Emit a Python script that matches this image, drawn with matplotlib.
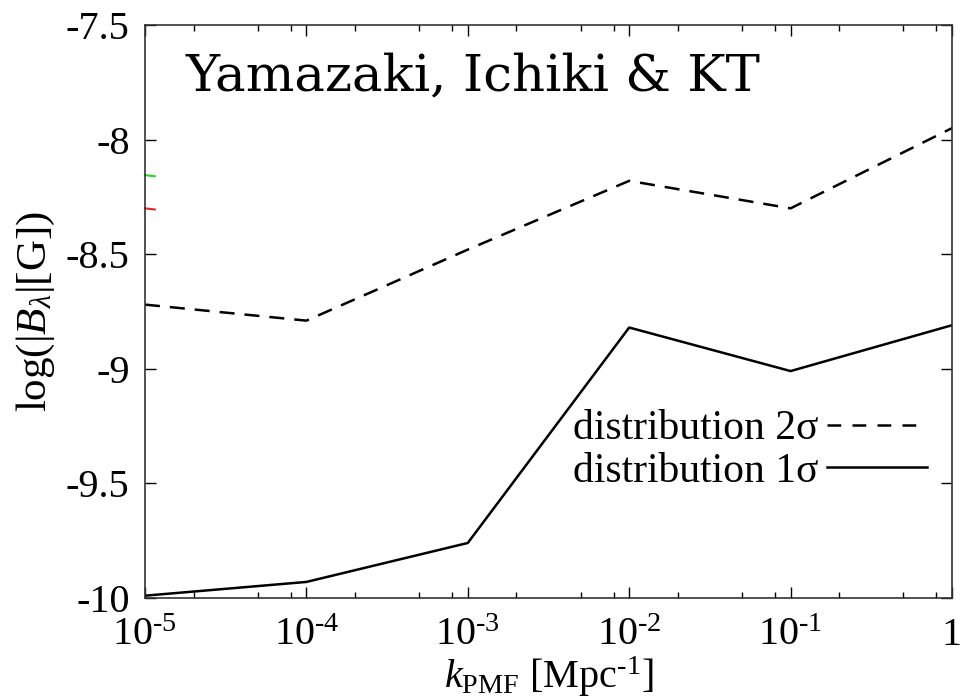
import numpy as np
import matplotlib
matplotlib.use("Agg")
from matplotlib import pyplot as plt
from matplotlib.lines import Line2D
from matplotlib.ticker import FixedLocator

plt.rcParams['font.family'] = ['Liberation Serif', 'DejaVu Serif']
plt.rcParams['mathtext.fontset'] = 'custom'
plt.rcParams['mathtext.rm'] = 'Liberation Serif'
plt.rcParams['mathtext.it'] = 'Liberation Serif:italic'

# Data ------------------------------------------
k_pmf = [1e-5, 1e-4, 1e-3, 1e-2, 1e-1, 1.0]
logB_2sigma = [-8.72, -8.79, -8.48, -8.18, -8.30, -7.95]
logB_1sigma = [-9.99, -9.93, -9.76, -8.82, -9.01, -8.81]

xtick_vals = [1e-5, 1e-4, 1e-3, 1e-2, 1e-1, 1.0]
xtick_labels = [r'10$^{\text{-5}}$', r'10$^{\text{-4}}$', r'10$^{\text{-3}}$',
                r'10$^{\text{-2}}$', r'10$^{\text{-1}}$', '1']
ytick_vals = [-10, -9.5, -9, -8.5, -8, -7.5]
ytick_labels = ['-10', '-9.5', '-9', '-8.5', '-8', '-7.5']

fig = plt.figure(figsize=(9.62, 6.98), dpi=100)
ax = fig.add_axes([0.1507, 0.1433, 0.8389, 0.8209])

ax.plot(k_pmf, logB_2sigma, color='black', lw=1.8, dashes=(6, 4))
ax.plot(k_pmf, logB_1sigma, color='black', lw=1.8)

# Axis style ------------------------------------
ax.set_xscale('log')
ax.set_xlim(1e-5, 1.0)
ax.set_ylim(-10, -7.5)
ax.xaxis.set_major_locator(FixedLocator(xtick_vals))
ax.set_xticklabels(xtick_labels)
minors = [m * 10.0**e for e in range(-5, 0) for m in (2, 5, 8)]
ax.xaxis.set_minor_locator(FixedLocator(minors))
ax.xaxis.set_minor_formatter(plt.NullFormatter())
ax.set_yticks(ytick_vals)
ax.set_yticklabels(ytick_labels)
ax.tick_params(which='both', direction='in', top=True, right=True, labelsize=29)
ax.tick_params(which='major', length=8, width=1)
ax.tick_params(which='minor', length=4, width=1)
ax.tick_params(axis='x', pad=14)
ax.tick_params(axis='y', pad=11)
for s in ax.spines.values():
    s.set_linewidth(1.2)
    s.set_color('#333333')

ax.set_xlabel(r'$k_{\mathregular{PMF}}$ [Mpc$^{\text{-1}}$]', fontsize=29, labelpad=0)
ax.set_ylabel(r'log(|$B_{\lambda}$|[G])', fontsize=31, labelpad=6)

ax.text(0.05, 0.91, 'Yamazaki, Ichiki & KT', transform=ax.transAxes,
        fontsize=37, ha='left', va='center', family='DejaVu Serif')

handles = [Line2D([], [], color='black', lw=1.8, dashes=(5.5, 4.5)),
           Line2D([], [], color='black', lw=1.8)]
ax.legend(handles, [u'distribution 2\u03c3', u'distribution 1\u03c3'],
          loc='lower right', bbox_to_anchor=(0.969, 0.187), frameon=False,
          markerfirst=False, fontsize=30, handlelength=2.4, handletextpad=0.2,
          labelspacing=0.1, borderpad=0.0, borderaxespad=0.0)

# small colour marks at left edge
ax.plot([1e-5, 1.15e-5], [-8.155, -8.16], color='#22dd22', lw=1.5, clip_on=False)
ax.plot([1e-5, 1.15e-5], [-8.30, -8.305], color='#ee2222', lw=1.5, clip_on=False)

plt.savefig("out.png", dpi=100)
